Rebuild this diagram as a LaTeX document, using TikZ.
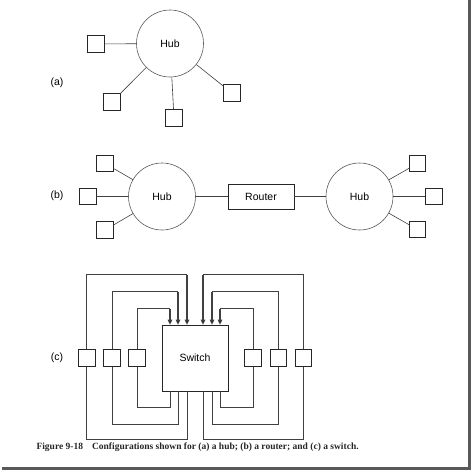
\documentclass[tikz,border=0pt]{standalone}
\usepackage{fontspec}
\setmainfont{Liberation Serif}
\setsansfont{Liberation Sans}
\usetikzlibrary{positioning,arrows.meta}
\begin{document}
\begin{tikzpicture}[x=1pt,y=-1pt,font=\sffamily\fontsize{10.5}{12}\selectfont,
  wire/.style={draw=black!75,line width=0.6pt},
  port/.style={draw=black!85,fill=white,line width=0.7pt,minimum size=16.5pt,inner sep=0pt},
  hub/.style={circle,draw=black!65,fill=white,line width=0.6pt,minimum size=67pt,inner sep=0pt},
  tip/.style={line width=1.1pt,-{Triangle[length=5pt,width=4.5pt]}}]
\useasboundingbox (0,0) rectangle (473,471);
% (a) a hub
\node (lblA) at (57,83) {(a)};
\node[hub] (hubA) at (170,43.5) {Hub};
\node[port] (a1) at (96,44) {};
\node[port] (a2) at (112,102) {};
\node[port] (a3) at (174,118) {};
\node[port] (a4) at (232,93) {};
\draw[wire] (a1) -- (hubA);
\draw[wire] (a2) -- (hubA);
\draw[wire] (a3) -- (hubA);
\draw[wire] (a4) -- (hubA);
% (b) a router
\node (lblB) at (57,196) {(b)};
\node[hub] (hubL) at (162,196.5) {Hub};
\node[draw=black!85,line width=0.7pt,minimum width=66pt,minimum height=25pt] (router) at (261,196.5) {Router};
\node[hub] (hubR) at (359.5,196.5) {Hub};
\node[port] (bl1) at (105,163.5) {};
\node[port,left=32pt of hubL] (bl2) {};
\node[port] (bl3) at (105,230) {};
\node[port] (br1) at (417.5,163.5) {};
\node[port,right=32pt of hubR] (br2) {};
\node[port] (br3) at (417.5,229.5) {};
\draw[wire] (bl1) -- (hubL);
\draw[wire] (bl2) -- (hubL);
\draw[wire] (bl3) -- (hubL);
\draw[wire] (br1) -- (hubR);
\draw[wire] (br2) -- (hubR);
\draw[wire] (br3) -- (hubR);
\draw[wire] (hubL) -- (router);
\draw[wire] (router) -- (hubR);
% (c) a switch
\node (lblC) at (57,358) {(c)};
\node[draw=black!85,line width=0.7pt,minimum size=66pt] (switch) at (195,358) {Switch};
\node[port,left=16pt of switch] (c3) {};
\node[port,left=8pt of c3] (c2) {};
\node[port,left=8pt of c2] (c1) {};
\node[port,right=16pt of switch] (c4) {};
\node[port,right=8pt of c4] (c5) {};
\node[port,right=8pt of c5] (c6) {};
% into the switch
\draw[wire] (c1.north) |- ([xshift=-8pt,yshift=50pt]switch.north) edge[tip] ([xshift=-8pt]switch.north);
\draw[wire] (c2.north) |- ([xshift=-17pt,yshift=33pt]switch.north) edge[tip] ([xshift=-17pt]switch.north);
\draw[wire] (c3.north) |- ([xshift=-25pt,yshift=16pt]switch.north) edge[tip] ([xshift=-25pt]switch.north);
\draw[wire] (c4.north) |- ([xshift=25pt,yshift=16pt]switch.north) edge[tip] ([xshift=25pt]switch.north);
\draw[wire] (c5.north) |- ([xshift=17pt,yshift=33pt]switch.north) edge[tip] ([xshift=17pt]switch.north);
\draw[wire] (c6.north) |- ([xshift=8pt,yshift=50pt]switch.north) edge[tip] ([xshift=8pt]switch.north);
% out of the switch
\draw[wire] ([xshift=-8pt]switch.south) -- ++(0,48) -| (c1.south);
\draw[wire] ([xshift=-17pt]switch.south) -- ++(0,33) -| (c2.south);
\draw[wire] ([xshift=-25pt]switch.south) -- ++(0,16) -| (c3.south);
\draw[wire] ([xshift=25pt]switch.south) -- ++(0,16) -| (c4.south);
\draw[wire] ([xshift=17pt]switch.south) -- ++(0,33) -| (c5.south);
\draw[wire] ([xshift=8pt]switch.south) -- ++(0,48) -| (c6.south);
% caption and frame
\node[anchor=base west,font=\rmfamily\bfseries\fontsize{9.5}{11}\selectfont,text=black!85] (caption) at (33,449) {Figure 9-18\hspace{9pt}Configurations shown for (a) a hub; (b) a router; and (c) a switch.};
\coordinate (frameTR) at (469.5,0);
\coordinate (frameBR) at (469.5,468.5);
\coordinate (frameBL) at (2,468.5);
\draw[line width=3pt,black!65] (frameTR) -- (frameBR) -- (frameBL);
\end{tikzpicture}
\end{document}
